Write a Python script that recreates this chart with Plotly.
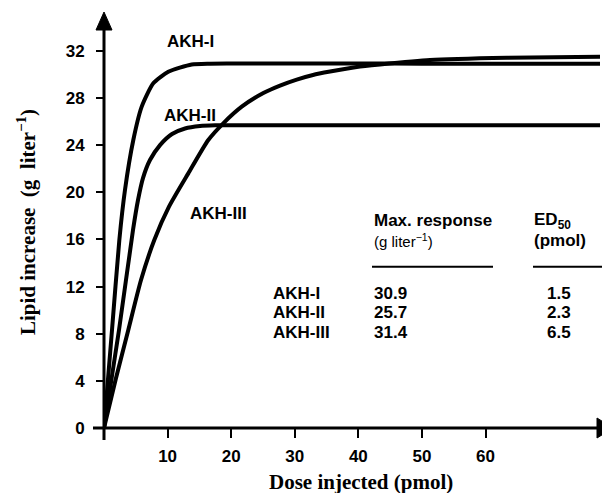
import plotly.graph_objects as go

# ---- data ----
dose_akh1 = [0, 1.26, 2.41, 3.30, 4.61, 5.93, 7.75, 10.11, 13.79, 16.67, 20, 30, 40, 50, 60, 70, 78]
resp_akh1 = [0, 8.32, 15.95, 20.20, 24.44, 27.27, 29.25, 30.23, 30.85, 30.92, 30.93, 30.93, 30.93, 30.92, 30.92, 30.92, 30.92]

dose_akh2 = [0, 2.36, 4.56, 5.35, 6.13, 7.23, 8.81, 10.70, 12.74, 15.10, 17.46, 20, 30, 40, 50, 60, 70, 78]
resp_akh2 = [0, 8.32, 16.80, 19.35, 21.21, 22.74, 24.01, 24.95, 25.42, 25.63, 25.69, 25.7, 25.7, 25.7, 25.7, 25.7, 25.7, 25.7]

dose_akh3 = [0, 1.89, 3.82, 5.82, 7.91, 10.22, 13.26, 16.40, 18.76, 21.66, 25.06, 27.68, 30.31, 32.87, 35.55,
             39.75, 43.41, 51.27, 63.38, 78.0]
resp_akh3 = [0, 4.24, 8.32, 12.56, 15.95, 18.78, 21.61, 24.44, 25.86, 27.27, 28.43, 29.06, 29.57, 29.96, 30.25,
             30.64, 30.85, 31.23, 31.42, 31.51]

x_ticks = [10, 20, 30, 40, 50, 60]
y_ticks = [0, 4, 8, 12, 16, 20, 24, 28, 32]

table_rows = ["AKH-I", "AKH-II", "AKH-III"]
max_response = [30.9, 25.7, 31.4]
ed50 = [1.5, 2.3, 6.5]

# ---- layout geometry helpers (pixel -> paper) ----
W, H = 602, 493
L, R, T, B = 104, 2, 13, 65
PW, PH = W - L - R, H - T - B


def xp(px):
    return (px - L) / PW


def yp(py):
    return (H - B - py) / PH


SANS = "Liberation Sans"
SERIF = "Liberation Serif"

fig = go.Figure()
for xs, ys in [(dose_akh1, resp_akh1), (dose_akh2, resp_akh2), (dose_akh3, resp_akh3)]:
    fig.add_trace(go.Scatter(x=xs, y=ys, mode="lines",
                             line=dict(color="black", width=4, shape="spline", smoothing=0.6),
                             showlegend=False, hoverinfo="skip", cliponaxis=True))

fig.update_layout(
    width=W, height=H,
    margin=dict(l=L, r=R, t=T, b=B),
    plot_bgcolor="white", paper_bgcolor="white",
    xaxis=dict(range=[0, 78.0], showgrid=False, zeroline=False, showline=False,
               tickmode="array", tickvals=x_ticks,
               ticks="outside", ticklen=9, tickwidth=2, tickcolor="black",
               ticklabelstandoff=4,
               tickfont=dict(family=SANS, size=17, color="black", weight="bold")),
    yaxis=dict(range=[0, 35.22], showgrid=False, zeroline=False, showline=False,
               tickmode="array", tickvals=y_ticks,
               ticks="outside", ticklen=7, tickwidth=2, tickcolor="black",
               ticklabelstandoff=8,
               tickfont=dict(family=SANS, size=17, color="black", weight="bold")),
)

# axes lines with arrowheads
fig.add_shape(type="line", xref="paper", yref="paper",
              x0=xp(93), x1=xp(598), y0=yp(428), y1=yp(428),
              line=dict(color="black", width=3))
fig.add_shape(type="line", xref="paper", yref="paper",
              x0=xp(104), x1=xp(104), y0=yp(440), y1=yp(26),
              line=dict(color="black", width=3))
fig.add_shape(type="path", xref="paper", yref="paper",
              path=f"M {xp(104)} {yp(12)} L {xp(96)} {yp(30)} L {xp(112)} {yp(30)} Z",
              fillcolor="black", line=dict(color="black", width=1))
fig.add_shape(type="path", xref="paper", yref="paper",
              path=f"M {xp(597)} {yp(418)} L {xp(613)} {yp(428)} L {xp(597)} {yp(438)} Z",
              fillcolor="black", line=dict(color="black", width=1))


def note(px, py, text, font, xanchor="center", angle=0):
    fig.add_annotation(xref="paper", yref="paper", x=xp(px), y=yp(py), text=text,
                       showarrow=False, xanchor=xanchor, yanchor="middle",
                       textangle=angle, font=font)


# axis titles
title_font = dict(family=SERIF, size=21, color="black", weight="bold")
note(361, 482, "Dose injected (pmol)", title_font)
note(26, 222, "Lipid increase  (g  liter<sup>−1</sup>)", title_font, angle=-90)

# curve labels
lab_font = dict(family=SANS, size=17, color="black", weight="bold")
for txt, (px, py) in zip(table_rows, [(190, 41.5), (189.5, 115), (218, 213.5)]):
    note(px, py, txt, lab_font)

# table
note(372, 221, "Max. response", lab_font, "left")
note(372, 240, "(g liter<sup>−1</sup>)", dict(family=SANS, size=15, color="black"), "left")
note(532, 221, "ED<sub>50</sub>", lab_font, "left")
note(532, 240, "(pmol)", lab_font, "left")
fig.add_shape(type="line", xref="paper", yref="paper",
              x0=xp(372), x1=xp(493), y0=yp(266.7), y1=yp(266.7),
              line=dict(color="black", width=2))
fig.add_shape(type="line", xref="paper", yref="paper",
              x0=xp(533), x1=xp(602), y0=yp(266.7), y1=yp(266.7),
              line=dict(color="black", width=2))

row_y = [293, 312.5, 332]
for name, mr, ed, ry in zip(table_rows, max_response, ed50, row_y):
    note(271, ry, name, lab_font, "left")
    note(372, ry, f"{mr:.1f}", lab_font, "left")
    note(545, ry, f"{ed:.1f}", lab_font, "left")

fig.write_html("out.html")
